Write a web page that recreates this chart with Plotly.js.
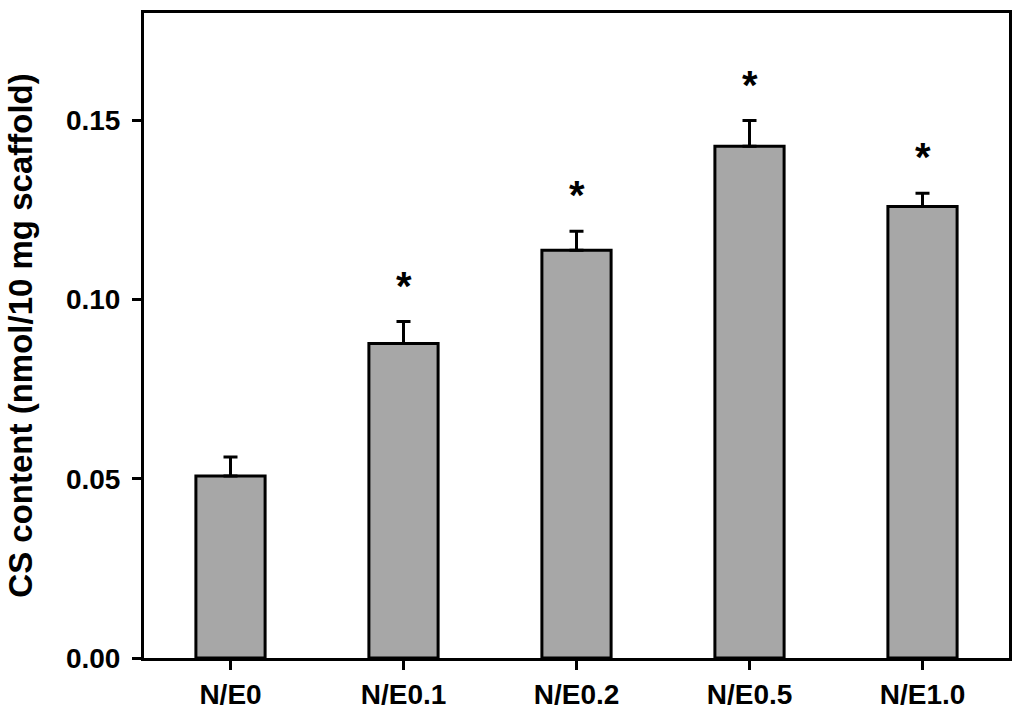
<!DOCTYPE html>
<html>
<head>
<meta charset="utf-8">
<script src="https://cdn.plot.ly/plotly-3.0.1.min.js"></script>
<style>html,body{margin:0;padding:0;background:#fff;}#chart{width:1024px;height:712px;}</style>
</head>
<body>
<div id="chart"></div>
<script>
const categories = ["N/E0", "N/E0.1", "N/E0.2", "N/E0.5", "N/E1.0"];
const csContent = [0.0508, 0.0878, 0.1138, 0.1428, 0.1260];
const csError = [0.0053, 0.0061, 0.0053, 0.0072, 0.0037];
const significance = ["", "*", "*", "*", "*"];
const yTicks = [0, 0.05, 0.10, 0.15];
const yTickLabels = ["0.00", "0.05", "0.10", "0.15"];

const font = {family: "Liberation Sans, Arial, sans-serif", color: "#000"};

const trace = {
  type: "bar",
  x: categories,
  y: csContent,
  width: 0.4,
  marker: {color: "#a7a7a7", line: {color: "#000", width: 3}},
  error_y: {type: "data", array: csError, arrayminus: csError.map(() => 0), symmetric: false,
            color: "#000", thickness: 3, width: 7},
  hoverinfo: "none"
};

const annotations = categories.map((c, i) => ({
  x: c, y: csContent[i] + csError[i], text: significance[i],
  showarrow: false, yanchor: "middle", yshift: 36,
  font: Object.assign({}, font, {size: 40, weight: "bold"})
})).filter(a => a.text);

const layout = {
  width: 1024, height: 712,
  margin: {l: 144, r: 15, t: 13, b: 54},
  paper_bgcolor: "#fff", plot_bgcolor: "#fff",
  showlegend: false,
  font: font,
  xaxis: {
    range: [-0.5, 4.5], showline: true, mirror: true, linewidth: 3, linecolor: "#000",
    ticks: "outside", ticklen: 9, tickwidth: 3, tickcolor: "#000",
    tickfont: Object.assign({}, font, {size: 28, weight: "bold"}),
    showgrid: false, zeroline: false, fixedrange: true
  },
  yaxis: {
    range: [0, 0.18], showline: true, mirror: true, linewidth: 3, linecolor: "#000",
    ticks: "outside", ticklen: 9, tickwidth: 3, tickcolor: "#000",
    tickvals: yTicks, ticktext: yTickLabels,
    tickfont: Object.assign({}, font, {size: 28, weight: "bold"}),
    ticklabelstandoff: 6,
    title: {text: "CS content (nmol/10 mg scaffold)", standoff: 24,
            font: Object.assign({}, font, {size: 33, weight: "bold"})},
    showgrid: false, zeroline: false, fixedrange: true
  },
  annotations: annotations
};

Plotly.newPlot("chart", [trace], layout, {displayModeBar: false, staticPlot: true});
</script>
</body>
</html>
